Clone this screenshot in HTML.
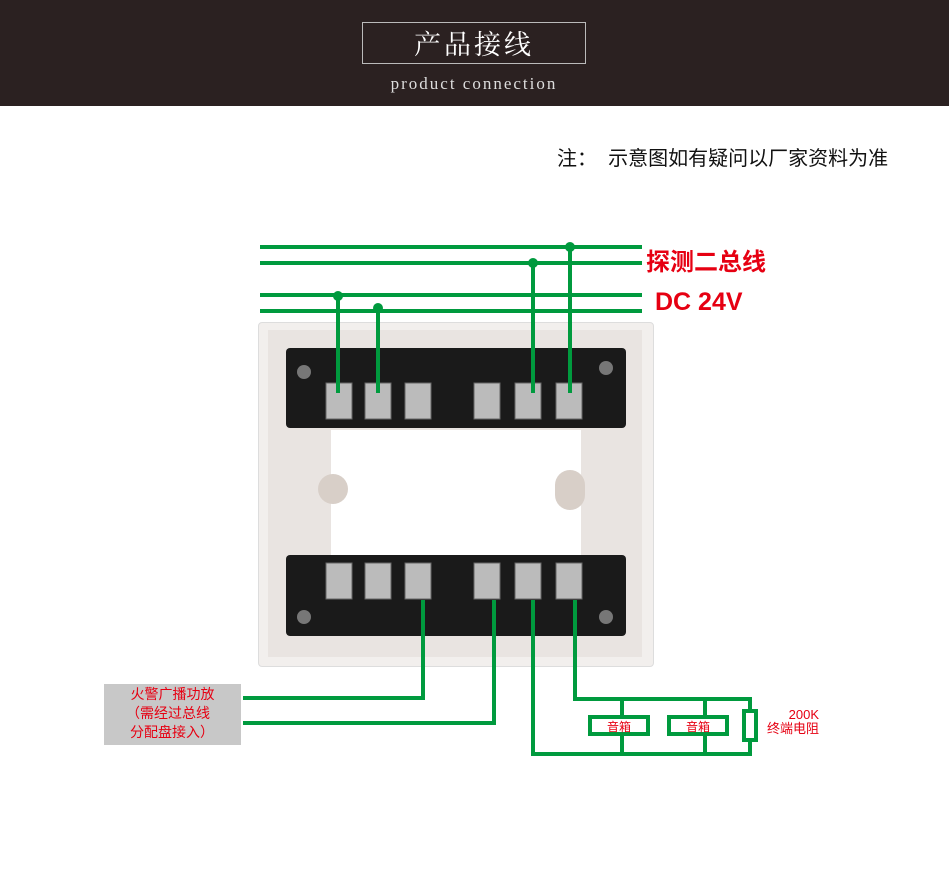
<!DOCTYPE html><html><head><meta charset="utf-8"><style>
body{margin:0;width:949px;height:883px;position:relative;background:#fff;overflow:hidden;font-family:"Liberation Sans","Noto Sans CJK SC",sans-serif}
.a{position:absolute}
</style></head><body>
<div class="a" style="left:0;top:0;width:949px;height:106px;background:#2b2121"></div>
<div class="a" style="left:362px;top:22px;width:222px;height:40px;border:1px solid #bbb;color:#fff;font-family:'Noto Serif CJK SC',serif;font-size:27px;text-align:center;line-height:40px;letter-spacing:3px">产品接线</div>
<div class="a" style="left:362px;top:74px;width:224px;text-align:center;color:#ddd;font-family:'Liberation Serif',serif;font-size:17px;letter-spacing:2px">product connection</div>
<div class="a" style="left:557px;top:142px;font-size:20px;color:#111;white-space:nowrap">注：&nbsp;&nbsp;示意图如有疑问以厂家资料为准</div>
<div class="a" style="left:258px;top:322px;width:394px;height:343px;background:#f2efed;border:1px solid #ddd;border-radius:4px"></div>
<div class="a" style="left:268px;top:330px;width:374px;height:327px;background:#e9e4e1"></div>
<div class="a" style="left:286px;top:348px;width:340px;height:80px;background:#1a1a1a;border-radius:4px"></div>
<div class="a" style="left:286px;top:555px;width:340px;height:81px;background:#1a1a1a;border-radius:4px"></div>
<div class="a" style="left:331px;top:430px;width:250px;height:125px;background:#fff"></div>
<div class="a" style="left:318px;top:474px;width:30px;height:30px;border-radius:15px;background:#d8cfc8"></div>
<div class="a" style="left:555px;top:470px;width:30px;height:40px;border-radius:15px;background:#d8cfc8"></div>
<svg class="a" style="left:0;top:0" width="949" height="883">
<g fill="#bbb" stroke="#666">
<rect x="326" y="383" width="26" height="36"/><rect x="365" y="383" width="26" height="36"/><rect x="405" y="383" width="26" height="36"/>
<rect x="474" y="383" width="26" height="36"/><rect x="515" y="383" width="26" height="36"/><rect x="556" y="383" width="26" height="36"/>
<rect x="326" y="563" width="26" height="36"/><rect x="365" y="563" width="26" height="36"/><rect x="405" y="563" width="26" height="36"/>
<rect x="474" y="563" width="26" height="36"/><rect x="515" y="563" width="26" height="36"/><rect x="556" y="563" width="26" height="36"/>
</g>
<g fill="#777"><circle cx="304" cy="372" r="7"/><circle cx="606" cy="368" r="7"/><circle cx="304" cy="617" r="7"/><circle cx="606" cy="617" r="7"/></g>
<g fill="none" stroke="#009a3e" stroke-width="4">
<path d="M260 247H642M260 263H642M260 295H642M260 311H642"/>
<path d="M338 296V393M378 308V393M533 263V393M570 247V393"/>
<path d="M423 600V698H243M494 600V723H243M533 600V754H750V699H575V600"/>
<path d="M622 699V754M705 699V754"/>
<rect x="590" y="717" width="58" height="17" fill="#fff"/><rect x="669" y="717" width="58" height="17" fill="#fff"/>
<rect x="744" y="711" width="12" height="29" fill="#fff"/>
</g>
<g fill="#009a3e"><circle cx="338" cy="296" r="5"/><circle cx="378" cy="308" r="5"/><circle cx="533" cy="263" r="5"/><circle cx="570" cy="247" r="5"/></g>
</svg>
<div class="a" style="left:646px;top:242px;color:#e60012;font-size:24px;font-weight:bold;white-space:nowrap">探测二总线</div>
<div class="a" style="left:655px;top:288px;color:#e60012;font-size:25px;font-weight:bold">DC 24V</div>
<div class="a" style="left:104px;top:684px;width:137px;height:60px;background:#c8c8c8;color:#e60012;font-size:14px;line-height:19px;padding-top:1px"><div style="text-align:center">火警广播功放</div><div style="padding-left:22px">（需经过总线</div><div style="padding-left:26px">分配盘接入）</div></div>
<div class="a" style="left:590px;top:718px;width:58px;text-align:center;color:#e60012;font-size:12px">音箱</div>
<div class="a" style="left:669px;top:718px;width:58px;text-align:center;color:#e60012;font-size:12px">音箱</div>
<div class="a" style="left:764px;top:708px;width:55px;text-align:right;color:#e60012;font-size:13px;line-height:14px">200K<br>终端电阻</div>
</body></html>
